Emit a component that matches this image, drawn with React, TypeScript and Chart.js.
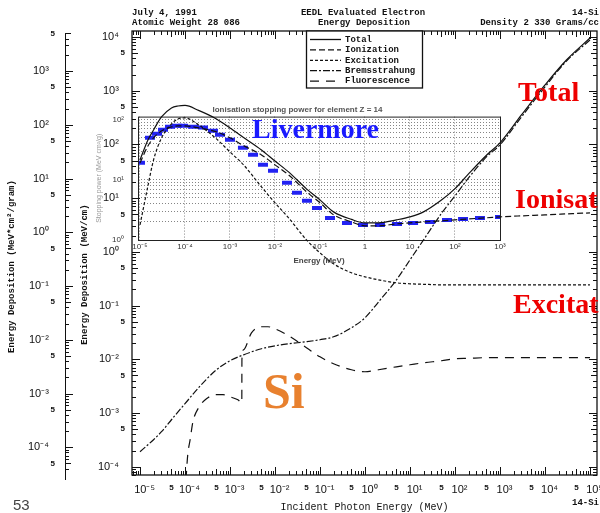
import React, { useEffect, useRef } from "react";
import { Chart, registerables } from "chart.js";

Chart.register(...registerables);

// ---------------- data ----------------
// Energy grid (MeV) for the main EEDL curves
const energyMeV = [
  1e-5, 1.5e-5, 2e-5, 3e-5, 5e-5, 7e-5, 1e-4, 2e-4, 5e-4, 1e-3, 2e-3, 5e-3,
  1e-2, 2e-2, 5e-2, 0.1, 0.2, 0.5, 1, 2, 5, 10, 20, 50, 100, 200, 500, 1e3,
  3e3, 1e4, 3e4, 1e5,
];
// Energy deposition (MeV/cm)
const totalDep = [
  51.5, 121, 186, 325, 478, 520, 532, 430, 298, 203, 135, 79, 49, 30.8, 14.9,
  9.27, 5.55, 4.02, 3.47, 3.47, 3.94, 4.48, 5.55, 9.2, 15, 28.3, 63, 107, 354,
  1280, 3730, 9580,
];
const ionizationDep = [
  45.3, 93.8, 132, 178, 212, 221, 221, 203, 171, 133, 95, 63.8, 41.6, 27.1,
  13.2, 8.2, 4.9, 3.61, 3.05, 3.05, 3.32, 3.47, 3.61, 3.78, 3.94, 4.11, 4.3,
  4.48, 4.68, 4.88, 5.09, 5.32,
];
const excitationDep = [
  3.18, 16.9, 51.5, 132, 240, 298, 311, 231, 127, 72.4, 41.6, 16.2, 8.17, 4.3,
  1.67, 0.957, 0.598, 0.407, 0.343, 0.301, 0.265, 0.254, 0.249, 0.243, 0.243,
  0.243, 0.243, 0.243, 0.243, 0.243, 0.243, 0.243,
];
const bremsDep = [
  1.9e-4, 2.56e-4, 3.18e-4, 4.48e-4, 7.48e-4, 1.05e-3, 1.49e-3, 2.95e-3,
  6.38e-3, 9.38e-3, 1.21e-2, 1.57e-2, 1.78e-2, 1.94e-2, 2.12e-2, 2.31e-2,
  2.62e-2, 3.86e-2, 5.92e-2, 0.117, 0.301, 0.71, 1.67, 5.2, 11, 23.8, 58.5, 98,
  325, 1175, 3570, 8790,
];
const fluorEnergyMeV = [
  1.05e-4, 1.15e-4, 1.3e-4, 1.5e-4, 2e-4, 3e-4, 5e-4, 7e-4, 1e-3, 1.5e-3,
  1.83e-3, 1.84e-3, 2e-3, 3e-3, 5e-3, 7e-3, 1e-2, 2e-2, 5e-2, 0.1, 0.2, 0.5, 1,
  2, 5, 10, 20, 50, 100, 200, 500, 1e3, 1e4, 1e5,
];
const fluorDep = [
  5.7e-5, 1.67e-4, 3.18e-4, 6.87e-4, 1.25e-3, 1.84e-3, 2.19e-3, 2.19e-3,
  2.0e-3, 1.76e-3, 1.55e-3, 9.79e-3, 1.5e-2, 3.11e-2, 4.03e-2, 4.03e-2,
  3.69e-2, 2.74e-2, 1.64e-2, 1.11e-2, 8.25e-3, 6.38e-3, 5.85e-3, 6.38e-3,
  7.24e-3, 7.9e-3, 8.61e-3, 9.38e-3, 1.02e-2, 1.04e-2, 1.07e-2, 1.07e-2,
  1.07e-2, 1.07e-2,
];
// Livermore inset: ionisation stopping power (MeV cm2/g)
const livermoreEnergyMeV = [
  1.0e-5, 1.67e-5, 2.39e-5, 3.25e-5, 4.64e-5, 6.64e-5, 9.03e-5, 1.51e-4,
  2.51e-4, 4.19e-4, 6.0e-4, 1e-3, 1.94e-3, 3.25e-3, 5.41e-3, 9.03e-3, 1.85e-2,
  3.08e-2, 5.14e-2, 8.58e-2, 0.167, 0.398, 0.903, 2.15, 5.14, 11.7, 27.8, 66.4,
  151, 359, 1000,
];
const livermoreStopping = [
  19.2, 50.1, 58.4, 68.1, 76.4, 79.4, 79.4, 76.4, 73.6, 65.6, 56.2, 46.4, 34.1,
  26.1, 17.8, 14.1, 8.91, 6.07, 4.47, 3.41, 2.33, 1.92, 1.78, 1.78, 1.85, 1.92,
  2.0, 2.15, 2.24, 2.33, 2.42,
];

const seriesNames = ["Total", "Ionization", "Excitation", "Bremsstrahung", "Fluorescence"];
const seriesDash: number[][] = [[], [6, 3], [3, 2], [7, 2, 2, 2], [9, 7]];

// tick decades
const xDecades = [-5, -4, -3, -2, -1, 0, 1, 2, 3, 4, 5];
const yDecades = [-4, -3, -2, -1, 0, 1, 2, 3, 4];
const outerDecades = [-5, -4, -3, -2, -1, 0, 1, 2, 3];
const insetXDecades = [-5, -4, -3, -2, -1, 0, 1, 2, 3];
const insetYDecades = [0, 1, 2];

const DENSITY = 2.33; // g/cc
const X_MIN = 10 ** -5.178;
const X_MAX = 10 ** 5.156;
const Y_MIN = 10 ** -4.149;
const Y_MAX = 10 ** 4.112;

// ---------------- helpers ----------------
const SUP: Record<string, string> = {
  "-": "\u207B", "0": "\u2070", "1": "\u00B9", "2": "\u00B2", "3": "\u00B3",
  "4": "\u2074", "5": "\u2075", "6": "\u2076", "7": "\u2077", "8": "\u2078", "9": "\u2079",
};
const pow10 = (n: number) => "10" + String(n).split("").map((c) => SUP[c]).join("");
const isDecade = (v: number) => {
  const l = Math.log10(v);
  return Math.abs(l - Math.round(l)) < 1e-7;
};
const decadeTicks = (decades: number[], withFive: boolean) => (scale: any) => {
  const t: { value: number }[] = [];
  decades.forEach((d) => {
    const a = 10 ** d;
    if (a >= scale.min * 0.9999 && a <= scale.max * 1.0001) t.push({ value: a });
    if (withFive) {
      const b = 5 * 10 ** d;
      if (b >= scale.min && b <= scale.max) t.push({ value: b });
    }
  });
  t.sort((p, q) => p.value - q.value);
  scale.ticks = t;
};
const labelFont = (ctx: any) => {
  const v = ctx && ctx.tick ? ctx.tick.value : 1;
  return isDecade(v)
    ? { family: "Liberation Sans", size: 11 }
    : { family: "Liberation Sans", size: 8, weight: "bold" };
};
const yLabel = (v: any) => {
  const n = Number(v);
  return isDecade(n) ? pow10(Math.round(Math.log10(n))) + "  " : "5";
};
const xLabel = (v: any) => {
  const n = Number(v);
  return isDecade(n) ? "   " + pow10(Math.round(Math.log10(n))) : "5";
};

// ---------------- plugins ----------------
const frameTicks = {
  id: "frameTicks",
  afterDraw(chart: any) {
    const { ctx, chartArea: a, scales } = chart;
    const x = scales.x, y = scales.y, yo = scales.yOuter;
    ctx.save();
    ctx.strokeStyle = "#111";
    ctx.lineWidth = 1.3;
    ctx.strokeRect(a.left, a.top, a.right - a.left, a.bottom - a.top);
    ctx.lineWidth = 1;
    ctx.beginPath();
    for (let d = -6; d <= 6; d++) {
      for (let m = 1; m <= 9; m++) {
        const v = m * 10 ** d;
        const len = m === 1 ? 8 : m === 5 ? 6 : 4;
        if (v >= x.min && v <= x.max) {
          const p = Math.round(x.getPixelForValue(v)) + 0.5;
          ctx.moveTo(p, a.bottom); ctx.lineTo(p, a.bottom - len);
          ctx.moveTo(p, a.top); ctx.lineTo(p, a.top + len);
        }
        if (v >= y.min && v <= y.max) {
          const p = Math.round(y.getPixelForValue(v)) + 0.5;
          ctx.moveTo(a.left, p); ctx.lineTo(a.left + len, p);
          ctx.moveTo(a.right, p); ctx.lineTo(a.right - len, p);
        }
        if (v >= yo.min && v <= yo.max) {
          const p = Math.round(yo.getPixelForValue(v)) + 0.5;
          ctx.moveTo(yo.right, p); ctx.lineTo(yo.right + len, p);
        }
      }
    }
    ctx.moveTo(yo.right + 0.5, a.top + 2);
    ctx.lineTo(yo.right + 0.5, a.bottom + 5);
    ctx.stroke();
    ctx.restore();
  },
};

const legendBox = {
  id: "legendBox",
  afterDraw(chart: any) {
    const { ctx, chartArea } = chart;
    const L = 306, R = 422, T = chartArea.top, B = 88;
    ctx.save();
    ctx.fillStyle = "#fff";
    ctx.fillRect(L, T, R - L, B - T);
    ctx.strokeStyle = "#111";
    ctx.lineWidth = 1.3;
    ctx.strokeRect(L + 0.5, T, R - L, B - T);
    chart.data.datasets.forEach((ds: any, i: number) => {
      const yy = 39.5 + i * 10.4;
      ctx.setLineDash(ds.borderDash || []);
      ctx.lineWidth = 1.3;
      ctx.beginPath();
      ctx.moveTo(310, yy);
      ctx.lineTo(341, yy);
      ctx.stroke();
      ctx.setLineDash([]);
      ctx.fillStyle = "#111";
      ctx.font = 'bold 9px "Liberation Mono"';
      ctx.textBaseline = "middle";
      ctx.fillText(ds.label, 345, yy);
    });
    ctx.restore();
  },
};

const insetFrame = {
  id: "insetFrame",
  afterDraw(chart: any) {
    const { ctx, chartArea: a } = chart;
    ctx.save();
    ctx.strokeStyle = "#222";
    ctx.lineWidth = 1;
    ctx.strokeRect(a.left + 0.5, a.top + 0.5, a.right - a.left, a.bottom - a.top);
    ctx.restore();
  },
};

// ---------------- charts ----------------
function MainChart() {
  const ref = useRef<HTMLCanvasElement>(null);
  useEffect(() => {
    const mk = (xs: number[], ys: number[]) => xs.map((e, i) => ({ x: e, y: ys[i] }));
    const seriesData = [
      mk(energyMeV, totalDep),
      mk(energyMeV, ionizationDep),
      mk(energyMeV, excitationDep),
      mk(energyMeV, bremsDep),
      mk(fluorEnergyMeV, fluorDep),
    ];
    const titleFont = { family: "Liberation Mono", size: 9, weight: "bold" as const };
    const chart = new Chart(ref.current as HTMLCanvasElement, {
      type: "line",
      data: {
        datasets: seriesNames.map((name, i) => ({
          label: name,
          data: seriesData[i],
          borderColor: "#111",
          borderWidth: 1.2,
          borderDash: seriesDash[i],
          pointRadius: 0,
          fill: false,
          cubicInterpolationMode: "monotone" as const,
        })),
      },
      options: {
        responsive: false,
        animation: false,
        devicePixelRatio: 1,
        layout: { autoPadding: false, padding: { top: 31, right: 3, bottom: 0, left: 0 } },
        plugins: { legend: { display: false }, tooltip: { enabled: false } },
        scales: {
          x: {
            type: "logarithmic",
            position: "bottom",
            min: X_MIN,
            max: X_MAX,
            afterBuildTicks: decadeTicks(xDecades, true),
            afterFit: (s: any) => {
              s.height = 38;
              s.paddingLeft = 0;
              s.paddingRight = 0;
            },
            ticks: { autoSkip: false, maxRotation: 0, padding: 0, color: "#111", font: labelFont as any, callback: xLabel },
            grid: { display: false, drawTicks: true, tickLength: 8 },
            border: { display: false },
            title: {
              display: true,
              text: "Incident Photon Energy (MeV)",
              color: "#111",
              font: { family: "Liberation Mono", size: 10 },
              padding: { top: 4, bottom: 0 },
            },
          },
          y: {
            type: "logarithmic",
            position: "left",
            weight: 0,
            min: Y_MIN,
            max: Y_MAX,
            afterBuildTicks: decadeTicks(yDecades, true),
            afterFit: (s: any) => { s.width = 67; },
            ticks: { autoSkip: false, padding: 0, color: "#111", font: labelFont as any, callback: yLabel },
            grid: { display: false, drawTicks: true, tickLength: 7 },
            border: { display: false },
            title: {
              display: true,
              text: "Energy Deposition (MeV/cm)        ",
              color: "#111",
              font: titleFont,
              padding: { top: 14, bottom: 0 },
            },
          },
          yOuter: {
            type: "logarithmic",
            position: "left",
            weight: 1,
            min: Y_MIN / DENSITY,
            max: Y_MAX / DENSITY,
            afterBuildTicks: decadeTicks(outerDecades, true),
            afterFit: (s: any) => { s.width = 65; },
            ticks: { autoSkip: false, padding: 0, color: "#111", font: labelFont as any, callback: yLabel },
            grid: { display: false, drawTicks: true, tickLength: 10 },
            border: { display: false },
            title: {
              display: true,
              text: "Energy Deposition (MeV*cm\u00B2/gram)     ",
              color: "#111",
              font: titleFont,
              padding: { top: 6, bottom: 0 },
            },
          },
        },
      } as any,
      plugins: [frameTicks, legendBox],
    });
    return () => chart.destroy();
  }, []);
  return (
    <canvas
      ref={ref}
      width={600}
      height={513}
      style={{ position: "absolute", left: 0, top: 0, width: 600, height: 513, zIndex: 2 }}
    />
  );
}

function InsetChart() {
  const ref = useRef<HTMLCanvasElement>(null);
  useEffect(() => {
    const small = { family: "Liberation Sans", size: 8 };
    const chart = new Chart(ref.current as HTMLCanvasElement, {
      type: "scatter",
      data: {
        datasets: [
          {
            label: "Livermore",
            data: livermoreEnergyMeV.map((e, i) => ({ x: e, y: livermoreStopping[i] })),
            showLine: false,
            pointStyle: "line",
            pointRadius: 5,
            pointBorderWidth: 4,
            borderColor: "#2222f2",
            backgroundColor: "#2222f2",
          },
        ],
      },
      options: {
        responsive: false,
        animation: false,
        devicePixelRatio: 1,
        layout: { autoPadding: false, padding: { top: 0, right: 7, bottom: 0, left: 0 } },
        plugins: {
          legend: { display: false },
          tooltip: { enabled: false },
          title: {
            display: true,
            text: "Ionisation stopping power for element Z = 14",
            color: "#555",
            font: { family: "Liberation Sans", size: 8, weight: "bold" },
            padding: { top: 1, bottom: 2 },
          },
        },
        scales: {
          x: {
            type: "logarithmic",
            min: 10 ** -5.044,
            max: 1000,
            afterBuildTicks: decadeTicks(insetXDecades, false),
            afterFit: (s: any) => { s.height = 26; },
            ticks: {
              autoSkip: false,
              maxRotation: 0,
              padding: 0,
              color: "#333",
              font: small,
              callback: (v: any) => {
                const n = Math.round(Math.log10(Number(v)));
                return n === 0 ? "1" : n === 1 ? "10" : pow10(n);
              },
            },
            grid: { color: "#666", lineWidth: 0.8, drawTicks: true, tickLength: 2, tickColor: "rgba(0,0,0,0)" },
            border: { display: false, dash: [1, 2] },
            title: {
              display: true,
              text: "Energy (MeV)",
              color: "#444",
              font: { family: "Liberation Sans", size: 8, weight: "bold" },
              padding: { top: 5, bottom: 0 },
            },
          },
          y: {
            type: "logarithmic",
            min: 1,
            max: 10 ** 2.05,
            afterBuildTicks: (scale: any) => {
              const t: { value: number }[] = [];
              insetYDecades.forEach((d) => {
                for (let m = 1; m <= 9; m++) {
                  const v = m * 10 ** d;
                  if (v >= scale.min && v <= scale.max) t.push({ value: v });
                }
              });
              scale.ticks = t;
            },
            afterFit: (s: any) => { s.width = 43; },
            ticks: {
              autoSkip: false,
              padding: 0,
              color: "#333",
              font: small,
              callback: (v: any) => (isDecade(Number(v)) ? pow10(Math.round(Math.log10(Number(v)))) : ""),
            },
            grid: { color: "#666", lineWidth: 0.8, drawTicks: true, tickLength: 14, tickColor: "rgba(0,0,0,0)" },
            border: { display: false, dash: [1, 2] },
            title: {
              display: true,
              text: "Stopping power (MeV cm\u00B2/g)",
              color: "#999",
              font: { family: "Liberation Sans", size: 7 },
              padding: { top: 0, bottom: 0 },
            },
          },
        },
      } as any,
      plugins: [insetFrame],
    });
    return () => chart.destroy();
  }, []);
  return (
    <canvas
      ref={ref}
      width={412}
      height={162}
      style={{ position: "absolute", left: 95, top: 104, width: 412, height: 162, zIndex: 1 }}
    />
  );
}

// ---------------- text overlays ----------------
type TxtProps = { style: React.CSSProperties; children: React.ReactNode };
const Txt = ({ style, children }: TxtProps) => (
  <div style={{ position: "absolute", whiteSpace: "nowrap", zIndex: 3, ...style }}>{children}</div>
);

const mono: React.CSSProperties = {
  fontFamily: '"Liberation Mono", monospace',
  fontSize: 9,
  fontWeight: "bold",
  lineHeight: "10px",
  color: "#111",
};
const redLabel: React.CSSProperties = {
  fontFamily: '"Liberation Serif", serif',
  fontSize: 28,
  fontWeight: "bold",
  lineHeight: "28px",
  color: "#ee0000",
};

export default function App() {
  return (
    <div
      style={{
        position: "absolute",
        left: 0,
        top: 0,
        width: 600,
        height: 513,
        overflow: "hidden",
        background: "#fff",
      }}
    >
      <InsetChart />
      <MainChart />
      <Txt style={{ ...mono, left: 132, top: 8 }}>July 4, 1991</Txt>
      <Txt style={{ ...mono, left: 132, top: 18 }}>Atomic Weight 28 086</Txt>
      <Txt style={{ ...mono, left: 263, width: 200, textAlign: "center", top: 8 }}>EEDL Evaluated Electron</Txt>
      <Txt style={{ ...mono, left: 264, width: 200, textAlign: "center", top: 18 }}>Energy Deposition</Txt>
      <Txt style={{ ...mono, right: 1, top: 8 }}>14-Si</Txt>
      <Txt style={{ ...mono, right: 1, top: 18 }}>Density 2 330 Grams/cc</Txt>
      <Txt style={{ ...mono, right: 1, top: 498 }}>14-Si</Txt>
      <Txt style={{ fontFamily: '"Liberation Sans", sans-serif', fontSize: 15, lineHeight: "15px", color: "#444", left: 13, top: 497 }}>53</Txt>
      <Txt style={{ ...redLabel, left: 518, top: 78 }}>Total</Txt>
      <Txt style={{ ...redLabel, left: 515, top: 185 }}>Ionisat</Txt>
      <Txt style={{ ...redLabel, left: 513, top: 290 }}>Excitat</Txt>
      <Txt style={{ ...redLabel, color: "#1a1aff", left: 252, top: 115 }}>Livermore</Txt>
      <Txt style={{ ...redLabel, color: "#e8812f", fontSize: 50, lineHeight: "50px", left: 263, top: 366 }}>Si</Txt>
    </div>
  );
}
